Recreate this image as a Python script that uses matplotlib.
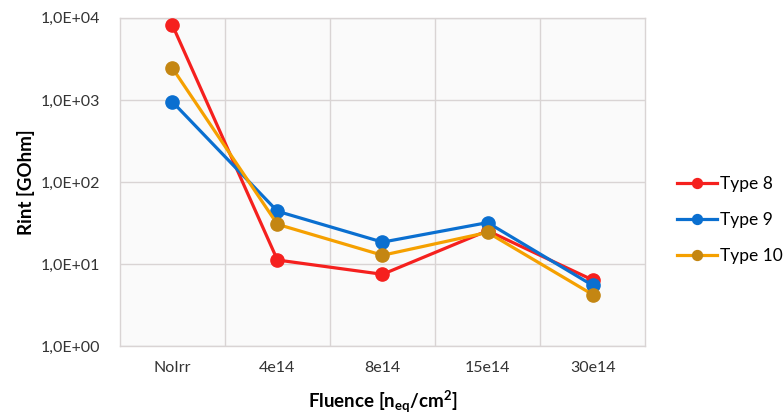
import matplotlib
matplotlib.use("Agg")
import matplotlib.pyplot as plt
from matplotlib.ticker import FixedLocator, NullLocator

categories = ["NoIrr", "4e14", "8e14", "15e14", "30e14"]
type8 = [8200, 11.2, 7.5, 25.5, 6.4]
type9 = [950, 44, 18.5, 32, 5.5]
type10 = [2450, 30.5, 12.8, 24.3, 4.25]
ytick_vals = [1, 10, 100, 1000, 10000]
ytick_labels = ["1,0E+00", "1,0E+01", "1,0E+02", "1,0E+03", "1,0E+04"]

plt.rcParams['font.family'] = ['Lato', 'DejaVu Sans']
plt.rcParams['mathtext.default'] = 'regular'

fig = plt.figure(figsize=(7.83, 4.16), dpi=100)
ax = fig.add_axes([0.153, 0.168, 0.671, 0.789])
ax.set_facecolor('#FAFAFA')

x = list(range(len(categories)))
series = [
    ("Type 8", type8, '#F5201E', '#F5201E'),
    ("Type 9", type9, '#0A6FD0', '#0A6FD0'),
    ("Type 10", type10, '#F5A000', '#C48612'),
]
for name, vals, lc, mc in series:
    ax.plot(x, vals, color=lc, lw=2.3, marker='o', ms=9.5,
            markerfacecolor=mc, markeredgecolor=mc, label=name, zorder=3)

ax.set_yscale('log')
ax.set_ylim(1, 10000)
ax.set_xlim(-0.5, len(categories) - 0.5)
ax.yaxis.set_major_locator(FixedLocator(ytick_vals))
ax.yaxis.set_minor_locator(NullLocator())
ax.set_yticks(ytick_vals)
ax.set_yticklabels(ytick_labels, fontsize=11.5, color='#333333')
ax.set_xticks(x)
ax.set_xticklabels(categories, fontsize=11.5, color='#333333')
ax.set_xticks([i + 0.5 for i in x[:-1]], minor=True)
ax.tick_params(axis='both', which='both', length=0, pad=14)
ax.tick_params(axis='x', pad=11)
ax.grid(True, which='major', axis='y', color='#D9D4D4', lw=1)
ax.grid(True, which='minor', axis='x', color='#D9D4D4', lw=1)
for s in ax.spines.values():
    s.set_color('#D9D4D4')
    s.set_linewidth(1)

ax.set_ylabel("Rint [GOhm]", fontsize=13.5, fontweight='bold', labelpad=4)
ax.set_xlabel(r"Fluence [n$_{eq}$/cm$^{2}$]", fontsize=13.5, fontweight='bold', labelpad=10)

leg = ax.legend(loc='center left', bbox_to_anchor=(1.03, 0.384), frameon=False,
                fontsize=12.5, labelspacing=1.15, handlelength=2.3, handletextpad=0.2,
                markerscale=0.75)

fig.savefig("out.png", dpi=100)
